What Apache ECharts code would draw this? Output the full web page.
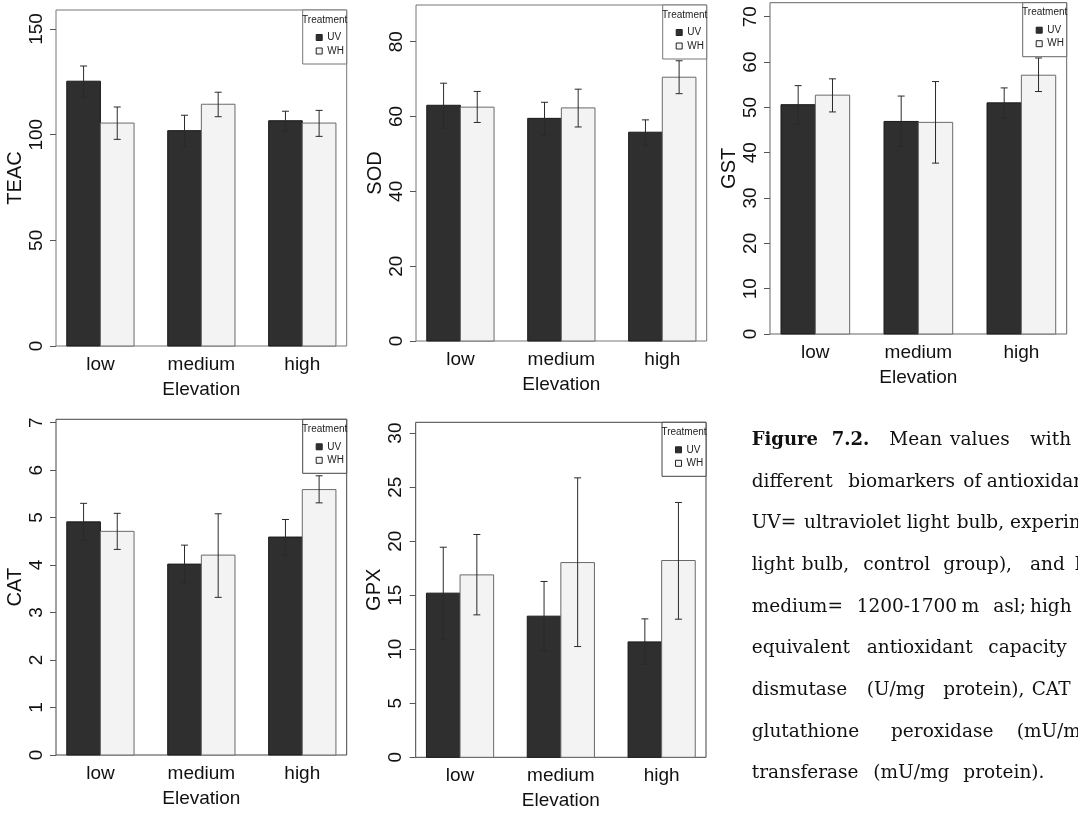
<!DOCTYPE html>
<html>
<head>
<meta charset="utf-8">
<script src="https://cdn.jsdelivr.net/npm/echarts@6/dist/echarts.min.js"></script>
<style>
  html, body { margin: 0; padding: 0; background: #fff; }
  #main { width: 1078px; height: 813px; }
</style>
</head>
<body>
<div id="main"></div>
<script>
// elevation groups and treatments
var categories = ['low', 'medium', 'high'];
var treatments = ['UV', 'WH'];

// TEAC
var teacUV = [125.3, 101.9, 106.6];
var teacWH = [105.5, 114.4, 105.5];
var teacUVErr = [[117.7, 132.5], [94.2, 109.2], [101.6, 111.1]];
var teacWHErr = [[97.8, 113.1], [108.5, 120.1], [99.2, 111.5]];
var teacTicks = [0, 50, 100, 150];

// SOD
var sodUV = [63.0, 59.5, 55.8];
var sodWH = [62.5, 62.3, 70.5];
var sodUVErr = [[56.9, 68.9], [55.0, 63.8], [52.3, 59.1]];
var sodWHErr = [[58.4, 66.7], [57.2, 67.3], [66.1, 74.9]];
var sodTicks = [0, 20, 40, 60, 80];

// GST
var gstUV = [50.6, 46.9, 51.0];
var gstWH = [52.7, 46.7, 57.1];
var gstUVErr = [[46.3, 54.8], [41.4, 52.5], [47.6, 54.3]];
var gstWHErr = [[49.0, 56.3], [37.7, 55.7], [53.5, 60.9]];
var gstTicks = [0, 10, 20, 30, 40, 50, 60, 70];

// CAT
var catUV = [4.91, 4.02, 4.59];
var catWH = [4.71, 4.21, 5.59];
var catUVErr = [[4.52, 5.30], [3.62, 4.42], [4.21, 4.96]];
var catWHErr = [[4.33, 5.09], [3.32, 5.08], [5.31, 5.88]];
var catTicks = [0, 1, 2, 3, 4, 5, 6, 7];

// GPX
var gpxUV = [15.19, 13.06, 10.68];
var gpxWH = [16.88, 18.02, 18.21];
var gpxUVErr = [[10.93, 19.44], [9.81, 16.27], [8.61, 12.81]];
var gpxWHErr = [[13.18, 20.62], [10.25, 25.86], [12.78, 23.58]];
var gpxTicks = [0, 5, 10, 15, 20, 25, 30];

var panels = [
    { name: 'TEAC', uv: teacUV, wh: teacWH, uvErr: teacUVErr, whErr: teacWHErr, ticks: teacTicks, max: 159 },
    { name: 'SOD', uv: sodUV, wh: sodWH, uvErr: sodUVErr, whErr: sodWHErr, ticks: sodTicks, max: 89.8 },
    { name: 'GST', uv: gstUV, wh: gstWH, uvErr: gstUVErr, whErr: gstWHErr, ticks: gstTicks, max: 73.1 },
    { name: 'CAT', uv: catUV, wh: catWH, uvErr: catUVErr, whErr: catWHErr, ticks: catTicks, max: 7.07 },
    { name: 'GPX', uv: gpxUV, wh: gpxWH, uvErr: gpxUVErr, whErr: gpxWHErr, ticks: gpxTicks, max: 31.0 }
];

// plot boxes in px
var boxes = [
    { left: 56, top: 10, width: 290.7, height: 336 },
    { left: 416, top: 5, width: 290.7, height: 336 },
    { left: 770, top: 2.7, width: 296.7, height: 331.3 },
    { left: 56, top: 419.3, width: 290.7, height: 335.7 },
    { left: 415.7, top: 422.3, width: 290.3, height: 335 }
];
var frameColors = ['#777', '#777', '#666', '#444', '#444'];

var FONT = "'Liberation Sans', Arial, sans-serif";
var NARROW = "'Liberation Sans Narrow', 'Arial Narrow', 'Liberation Sans', sans-serif";
var SERIF = "'DejaVu Serif', serif";
var fills = { UV: '#2f2f2f', WH: '#f3f3f3' };
var strokes = { UV: '#1a1a1a', WH: '#6a6a6a' };

function barRender(offset, key) {
    return function (params, api) {
        var g = api.value(0);
        var x0 = 1 + 3 * g + offset;
        var p0 = api.coord([x0, api.value(1)]);
        var p1 = api.coord([x0 + 1, 0]);
        return {
            type: 'rect',
            shape: { x: p0[0], y: p0[1], width: p1[0] - p0[0], height: p1[1] - p0[1] },
            style: { fill: fills[key], stroke: strokes[key], lineWidth: 1 }
        };
    };
}

function errRender(offset) {
    return function (params, api) {
        var g = api.value(0);
        var xc = 1.5 + 3 * g + offset;
        var lo = api.coord([xc, api.value(2)]);
        var hi = api.coord([xc, api.value(3)]);
        var c = 3.5;
        var st = { stroke: '#2a2a2a', lineWidth: 1 };
        return {
            type: 'group',
            children: [
                { type: 'line', shape: { x1: lo[0], y1: lo[1], x2: hi[0], y2: hi[1] }, style: st },
                { type: 'line', shape: { x1: hi[0] - c, y1: hi[1], x2: hi[0] + c, y2: hi[1] }, style: st },
                { type: 'line', shape: { x1: lo[0] - c, y1: lo[1], x2: lo[0] + c, y2: lo[1] }, style: st }
            ]
        };
    };
}

var grid = [], xAxis = [], yAxis = [], series = [], legend = [], graphic = [];

panels.forEach(function (p, k) {
    var b = boxes[k];
    grid.push({
        left: b.left, top: b.top, width: b.width, height: b.height,
        show: true, borderColor: frameColors[k], borderWidth: 1, backgroundColor: 'transparent'
    });
    xAxis.push({
        type: 'value', gridIndex: k, min: 0.68, max: 9.32,
        name: 'Elevation', nameLocation: 'middle', nameGap: 34,
        nameTextStyle: { fontFamily: FONT, fontSize: 19, color: '#111' },
        axisLine: { show: false }, axisTick: { show: false }, splitLine: { show: false },
        axisLabel: {
            customValues: categories.map(function (c, i) { return 2 + 3 * i; }),
            formatter: function (v) { return categories[Math.round((v - 2) / 3)]; },
            fontFamily: FONT, fontSize: 19, color: '#111', margin: 9
        }
    });
    yAxis.push({
        type: 'value', gridIndex: k, min: 0, max: p.max,
        name: p.name, nameLocation: 'middle', nameGap: 31,
        nameTextStyle: { fontFamily: FONT, fontSize: 20, color: '#111' },
        axisLine: { show: false }, splitLine: { show: false },
        axisTick: { show: true, customValues: p.ticks, length: 6, lineStyle: { color: '#555' } },
        axisLabel: {
            customValues: p.ticks, rotate: 90, margin: 10,
            fontFamily: FONT, fontSize: 19, color: '#111'
        }
    });
    var sets = [
        { key: 'UV', vals: p.uv, err: p.uvErr, off: 0 },
        { key: 'WH', vals: p.wh, err: p.whErr, off: 1 }
    ];
    sets.forEach(function (s) {
        var data = s.vals.map(function (v, i) { return [i, v, s.err[i][0], s.err[i][1]]; });
        series.push({
            type: 'custom', name: s.key, xAxisIndex: k, yAxisIndex: k,
            renderItem: barRender(s.off, s.key), data: data, z: 2,
            itemStyle: { color: fills[s.key], borderColor: strokes[s.key] },
            encode: { x: 0, y: 1 }
        });
        series.push({
            type: 'custom', name: s.key + ' err', xAxisIndex: k, yAxisIndex: k,
            renderItem: errRender(s.off), data: data, z: 3,
            encode: { x: 0, y: [2, 3] }
        });
    });
    // legend frame and title
    var right = b.left + b.width;
    graphic.push({
        type: 'rect', z: 10,
        shape: { x: right - 44, y: b.top, width: 44, height: 54 },
        style: { fill: '#fff', stroke: frameColors[k], lineWidth: 1 }
    });
    graphic.push({
        type: 'text', z: 11, x: right - 22, y: b.top + 10,
        style: { text: 'Treatment', font: '10px ' + NARROW, fill: '#222', align: 'center', verticalAlign: 'middle' }
    });
    legend.push({
        orient: 'vertical', left: right - 31, top: b.top + 21.5, z: 20,
        padding: 0, itemWidth: 6, itemHeight: 6, itemGap: 1.5, icon: 'rect',
        selectedMode: false,
        textStyle: { fontFamily: NARROW, fontSize: 10, color: '#222', lineHeight: 12 },
        data: treatments.map(function (t) {
            return { name: t, itemStyle: { color: fills[t], borderColor: '#222', borderWidth: 1 } };
        })
    });
});

// caption, word positions follow the justified layout
var captionLines = [
    { y: 440, words: [['Figure', 751.7, true], ['7.2.', 831.7, true], ['Mean', 889.3], ['values', 950], ['with', 1030]] },
    { y: 481.7, words: [['different', 751.7], ['biomarkers', 848.3], ['of', 963.3], ['antioxidant', 986.7]] },
    { y: 523.3, words: [['UV=', 751.7], ['ultraviolet', 804], ['light', 906.7], ['bulb,', 956.7], ['experimental', 1010]] },
    { y: 565, words: [['light', 751.7], ['bulb,', 801.7], ['control', 863.3], ['group),', 943.3], ['and', 1030], ['low', 1075]] },
    { y: 606.7, words: [['medium=', 751.7], ['1200-1700', 856.7], ['m', 961.7], ['asl;', 993.3], ['high', 1030]] },
    { y: 648.3, words: [['equivalent', 751.7], ['antioxidant', 866.7], ['capacity', 988.3]] },
    { y: 690, words: [['dismutase', 751.7], ['(U/mg', 866.7], ['protein),', 943.3], ['CAT', 1031.7]] },
    { y: 731.7, words: [['glutathione', 751.7], ['peroxidase', 891], ['(mU/mg', 1016.7]] },
    { y: 773.3, words: [['transferase', 751.7], ['(mU/mg', 873.3], ['protein).', 963.3]] }
];
captionLines.forEach(function (ln) {
    ln.words.forEach(function (w) {
        graphic.push({
            type: 'text', x: w[1], y: ln.y,
            style: {
                text: w[0], fill: '#111', verticalAlign: 'middle',
                font: w[2] ? 'bold 18px ' + SERIF : '18.5px ' + SERIF
            }
        });
    });
});

var chart = echarts.init(document.getElementById('main'));
chart.setOption({
    animation: false,
    grid: grid,
    xAxis: xAxis,
    yAxis: yAxis,
    legend: legend,
    series: series,
    graphic: graphic
});
</script>
</body>
</html>
